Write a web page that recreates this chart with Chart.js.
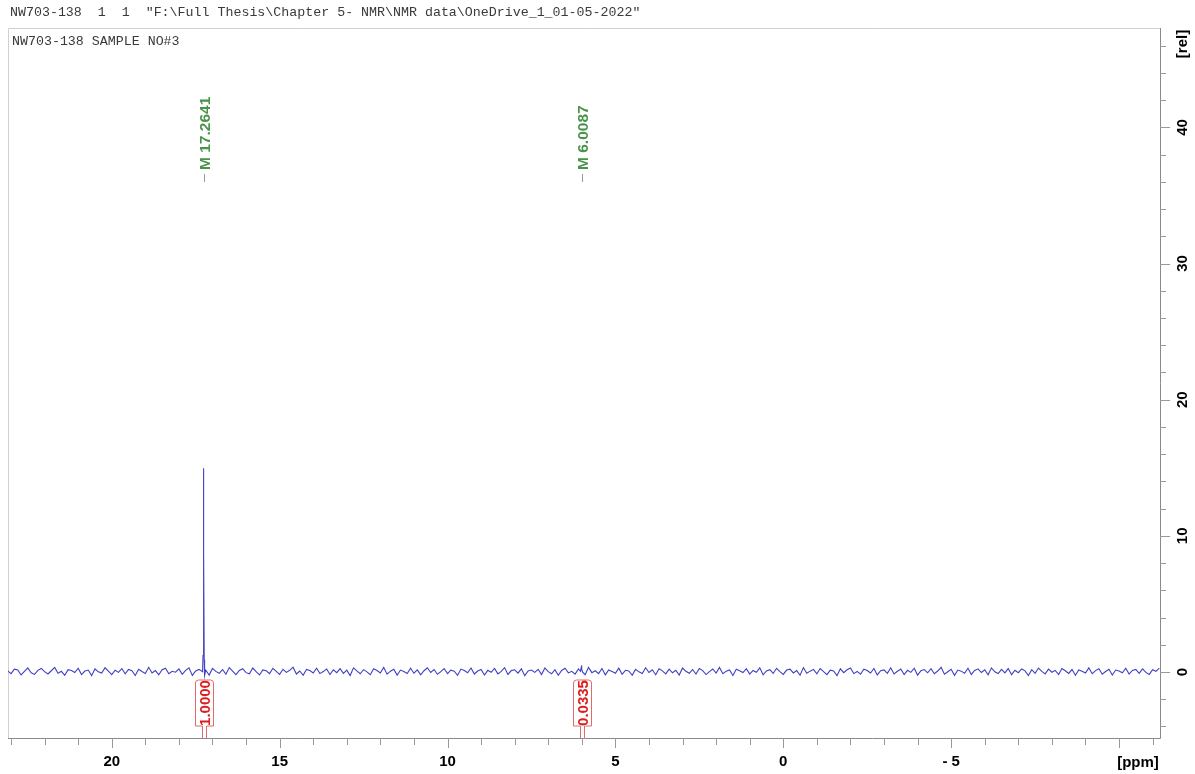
<!DOCTYPE html>
<html>
<head>
<meta charset="utf-8">
<script src="https://cdn.jsdelivr.net/npm/chart.js@4.4.0/dist/chart.umd.min.js"></script>
<style>
  html,body{margin:0;padding:0;background:#fff;}
  #wrap{position:relative;width:1195px;height:774px;overflow:hidden;}
  canvas{position:absolute;left:0;top:0;}
  .hdr{position:absolute;font-family:"Liberation Mono","DejaVu Sans Mono",monospace;font-size:13.3px;color:#3a3a3a;white-space:pre;line-height:16px;}
</style>
</head>
<body>
<div id="wrap">
<canvas id="c" width="1195" height="774"></canvas>
<div class="hdr" style="left:10px;top:5px;">NW703-138  1  1  "F:\Full Thesis\Chapter 5- NMR\NMR data\OneDrive_1_01-05-2022"</div>
<div class="hdr" style="left:12px;top:34px;">NW703-138 SAMPLE NO#3</div>
</div>
<script>
// ---- data ----
const ppmStart = 23.1;      // first baseline sample (ppm)
const ppmStep = 0.1;        // baseline sample spacing (ppm)
const baseline = [
0.08,-0.12,0.21,0.15,-0.22,0.04,0.3,-0.06,-0.18,0.12,0.26,0.02,-0.15,0.09,0.33,-0.1,0.05,-0.24,0.17,0.11,
-0.04,0.28,-0.19,0.07,0.14,-0.27,0.22,0.01,-0.08,0.31,0.06,-0.2,0.13,-0.03,0.25,-0.14,0.18,0.09,-0.26,0.2,
0.03,-0.11,0.34,-0.07,0.1,-0.21,0.16,0.27,-0.13,0.05,-0.02,0.23,-0.17,0.12,0.3,-0.25,0.08,0.19,-0.09,0.14,
-0.23,0.26,0.04,-0.1,0.18,-0.16,0.32,0.06,-0.2,0.11,0.24,-0.05,-0.14,0.29,0.02,-0.22,0.15,0.09,-0.12,0.27,
0.05,-0.18,0.2,-0.03,0.12,0.35,-0.15,0.07,-0.24,0.19,0.1,-0.08,0.28,-0.12,0.03,0.22,-0.19,0.16,-0.05,0.25,
-0.1,0.13,-0.26,0.3,0.08,-0.13,0.17,0.01,-0.2,0.24,0.11,-0.07,0.33,-0.16,0.06,0.2,-0.23,0.14,0.04,-0.11,
0.27,-0.09,0.15,-0.21,0.09,0.31,-0.04,0.18,-0.17,0.02,0.25,-0.12,0.13,0.06,-0.25,0.21,0.1,-0.06,0.29,-0.15,
0.07,0.19,-0.22,0.12,-0.02,0.26,-0.14,0.04,0.32,-0.18,0.1,0.16,-0.09,0.23,-0.27,0.08,0.14,-0.03,0.2,-0.19,
0.3,0.02,-0.13,0.17,-0.24,0.11,0.27,-0.07,0.05,-0.16,0.22,0.13,-0.2,0.34,-0.05,0.09,-0.12,0.25,-0.21,0.15,
0.04,-0.09,0.28,-0.17,0.12,0.07,-0.25,0.19,0.01,-0.11,0.31,-0.04,0.16,-0.2,0.24,0.08,-0.14,0.21,-0.06,0.13,
-0.23,0.29,0.05,-0.1,0.18,-0.15,0.26,0.1,-0.19,0.03,0.22,-0.08,0.33,-0.13,0.06,0.15,-0.26,0.2,0.09,-0.04,
0.24,-0.16,0.11,-0.02,0.3,-0.21,0.08,0.17,-0.11,0.27,0.03,-0.18,0.14,0.21,-0.07,0.1,-0.24,0.32,-0.09,0.06,
0.19,-0.14,0.25,0.02,-0.2,0.13,0.07,-0.27,0.23,-0.05,0.16,0.29,-0.12,0.04,-0.17,0.2,0.11,-0.08,0.26,-0.22,
0.09,0.15,-0.1,0.31,-0.15,0.05,0.22,-0.19,0.12,-0.03,0.28,-0.23,0.1,0.18,-0.06,0.24,-0.13,0.07,0.34,-0.16,
0.02,0.2,-0.25,0.14,0.06,-0.09,0.27,-0.18,0.11,0.23,-0.04,0.16,-0.21,0.3,0.01,-0.12,0.19,-0.07,0.25,-0.2,
0.13,-0.05,0.22,0.08,-0.26,0.17,-0.1,0.29,0.04,-0.14,0.21,-0.02,0.12,-0.19,0.26,0.09,-0.11,0.18,-0.24,0.15,
0.06,-0.08,0.3,-0.13,0.1,0.24,-0.17,0.03,0.2,-0.22,0.14,0.07,-0.06,0.27,-0.15,0.11,0.19,-0.1,0.23,-0.03,
-0.18,0.16,0.05,0.28
];
const peakPpm = [17.295, 17.282, 17.272, 17.2641, 17.256, 17.246, 17.235, 6.04, 6.02, 6.0087, 6.0, 5.98];
const peakVal = [0.02, 1.2, 9.5, 14.96, 9.0, 0.9, -0.25, 0.05, 0.3, 0.5, 0.25, 0.0];
const peakLabels = ["M 17.2641", "M 6.0087"];
const peakLabelPpm = [17.2641, 6.0087];
const integralLabels = ["1.0000", "0.0335"];
const integralPpm = [17.2641, 6.0087];
const xTickLabels = [20, 15, 10, 5, 0, -5];
const yTickLabels = [0, 10, 20, 30, 40];

// ---- build points ----
const centers = [17.2641, 6.0087];
let pts = [];
baseline.forEach((v, i) => {
  const x = ppmStart - i * ppmStep;
  if (centers.some(c => Math.abs(x - c) < 0.045)) return;
  pts.push({x: x, y: v});
});
peakPpm.forEach((p, i) => pts.push({x: p, y: peakVal[i]}));
pts.sort((a, b) => b.x - a.x);

const FONT = '"Liberation Sans", Arial, sans-serif';

const decor = {
  id: 'decor',
  beforeDatasetsDraw(chart) {
    const {ctx, chartArea: a} = chart;
    ctx.save();
    ctx.strokeStyle = '#d0d0d0';
    ctx.lineWidth = 1;
    ctx.beginPath();
    ctx.moveTo(a.left + 0.5, a.bottom);
    ctx.lineTo(a.left + 0.5, a.top + 0.5);
    ctx.lineTo(a.right, a.top + 0.5);
    ctx.stroke();
    ctx.restore();
  },
  afterDraw(chart) {
    const {ctx, chartArea: a, scales: {x, y}} = chart;
    ctx.save();
    // axis lines
    ctx.strokeStyle = '#8a8a8a';
    ctx.lineWidth = 1;
    ctx.beginPath();
    ctx.moveTo(a.left, a.bottom + 0.5);
    ctx.lineTo(a.right + 0.5, a.bottom + 0.5);
    ctx.moveTo(a.right + 0.5, a.top);
    ctx.lineTo(a.right + 0.5, a.bottom + 0.5);
    ctx.stroke();
    // x ticks
    ctx.strokeStyle = '#999';
    ctx.beginPath();
    for (let v = Math.ceil(x.min); v <= Math.floor(x.max); v++) {
      const px = Math.round(x.getPixelForValue(v)) + 0.5;
      const len = (v % 5 === 0) ? 10 : 7;
      ctx.moveTo(px, a.bottom);
      ctx.lineTo(px, a.bottom + len);
    }
    // y ticks
    for (let v = -4; v <= Math.floor(y.max); v += 2) {
      const py = Math.round(y.getPixelForValue(v)) + 0.5;
      const len = (v % 10 === 0) ? 10 : 6;
      ctx.moveTo(a.right, py);
      ctx.lineTo(a.right + len, py);
    }
    ctx.stroke();
    // x labels
    ctx.fillStyle = '#000';
    ctx.font = 'bold 15px ' + FONT;
    ctx.textAlign = 'center';
    ctx.textBaseline = 'middle';
    xTickLabels.forEach(v => {
      const px = x.getPixelForValue(v);
      ctx.fillText(v < 0 ? '- ' + (-v) : String(v), px, 762);
    });
    ctx.fillText('[ppm]', 1138, 763);
    // y labels (rotated)
    yTickLabels.forEach(v => {
      const py = y.getPixelForValue(v);
      ctx.save();
      ctx.translate(1183, py);
      ctx.rotate(-Math.PI / 2);
      ctx.fillText(String(v), 0, 0);
      ctx.restore();
    });
    ctx.save();
    ctx.translate(1183, 44);
    ctx.rotate(-Math.PI / 2);
    ctx.fillText('[rel]', 0, 0);
    ctx.restore();
    // peak labels
    peakLabelPpm.forEach((p, i) => {
      const px = Math.round(x.getPixelForValue(p)) + 0.5;
      ctx.strokeStyle = '#9a9a9a';
      ctx.beginPath();
      ctx.moveTo(px, 174);
      ctx.lineTo(px, 182);
      ctx.stroke();
      ctx.save();
      ctx.translate(px, 170);
      ctx.rotate(-Math.PI / 2);
      ctx.fillStyle = '#4a944a';
      ctx.font = 'bold 15.5px ' + FONT;
      ctx.textAlign = 'left';
      ctx.textBaseline = 'middle';
      ctx.fillText(peakLabels[i], 0, 1);
      ctx.restore();
    });
    // integral labels
    integralPpm.forEach((p, i) => {
      const cx = Math.round(x.getPixelForValue(p)) + 0.5;
      const hw = 9, top = 680, bot = 726, r = 3;
      ctx.strokeStyle = '#e36a6a';
      ctx.lineWidth = 1;
      ctx.beginPath();
      ctx.moveTo(cx - 2, a.bottom);
      ctx.lineTo(cx - 2, bot);
      ctx.lineTo(cx - hw, bot);
      ctx.lineTo(cx - hw, top + r);
      ctx.quadraticCurveTo(cx - hw, top, cx - hw + r, top);
      ctx.lineTo(cx + hw - r, top);
      ctx.quadraticCurveTo(cx + hw, top, cx + hw, top + r);
      ctx.lineTo(cx + hw, bot);
      ctx.lineTo(cx + 2, bot);
      ctx.lineTo(cx + 2, a.bottom);
      ctx.stroke();
      ctx.save();
      ctx.translate(cx, (top + bot) / 2);
      ctx.rotate(-Math.PI / 2);
      ctx.fillStyle = '#dc1e1e';
      ctx.font = 'bold 15px ' + FONT;
      ctx.textAlign = 'center';
      ctx.textBaseline = 'middle';
      ctx.fillText(integralLabels[i], 0, 1);
      ctx.restore();
    });
    ctx.restore();
  }
};

new Chart(document.getElementById('c'), {
  type: 'line',
  data: {
    datasets: [{
      data: pts,
      borderColor: '#4040c4',
      borderWidth: 1.1,
      pointRadius: 0,
      tension: 0,
      fill: false
    }]
  },
  options: {
    responsive: false,
    animation: false,
    devicePixelRatio: 1,
    layout: {padding: {left: 8, top: 28, right: 0, bottom: 0}},
    plugins: {legend: {display: false}, tooltip: {enabled: false}},
    scales: {
      x: {
        type: 'linear', reverse: true, min: -11.22, max: 23.09,
        ticks: {display: false}, grid: {display: false}, border: {display: false},
        afterFit(s) { s.height = 36; }
      },
      y: {
        type: 'linear', position: 'right', min: -4.85, max: 47.3,
        ticks: {display: false}, grid: {display: false}, border: {display: false},
        afterFit(s) { s.width = 35; }
      }
    }
  },
  plugins: [decor]
});
</script>
</body>
</html>
